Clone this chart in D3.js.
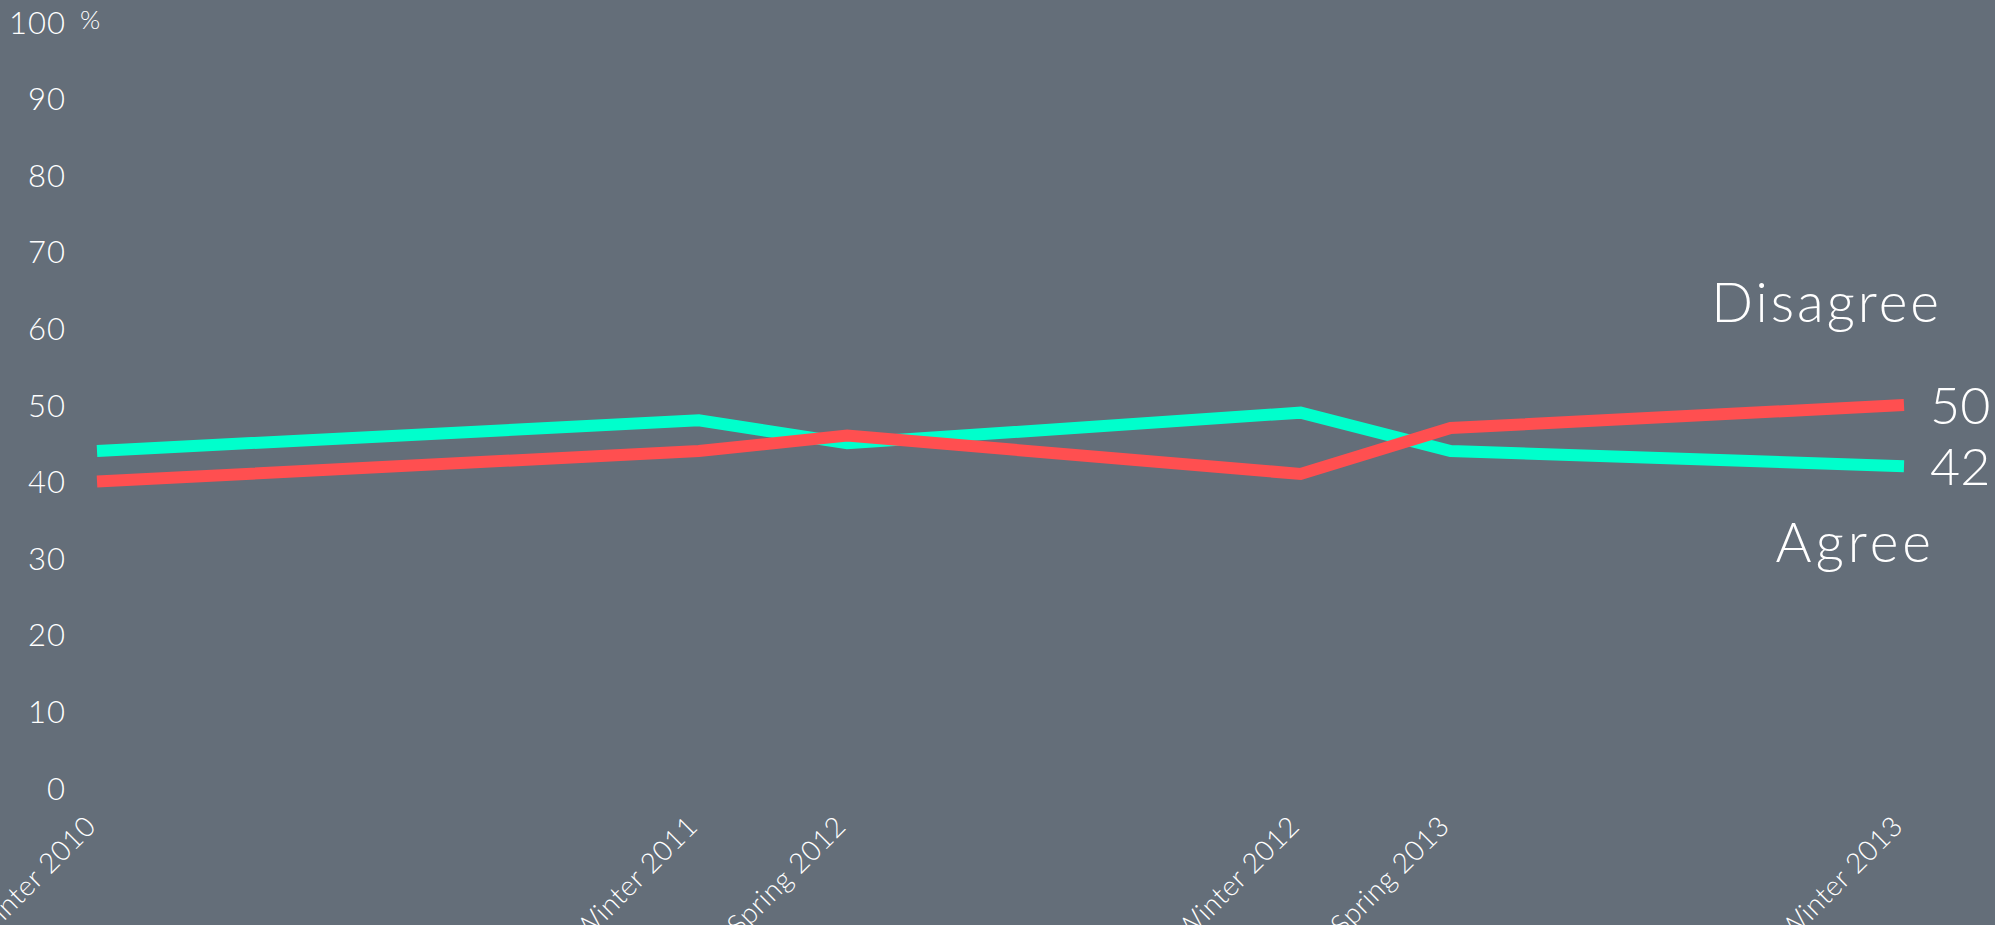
<!DOCTYPE html>
<html>
<head>
<meta charset="utf-8">
<script src="https://cdn.jsdelivr.net/npm/d3@7"></script>
<style>
  html, body { margin: 0; padding: 0; background: #646e79; }
  svg { display: block; }
  text { font-family: Lato, "Open Sans", sans-serif; font-weight: 300; fill: #ffffff; }
</style>
</head>
<body>
<svg id="chart" width="1995" height="925"></svg>
<script>
// ---- data ----
const categories = ["Winter 2010", "Winter 2011", "Spring 2012", "Winter 2012", "Spring 2013", "Winter 2013"];
const surveyDates = ["2010-01-01", "2011-01-01", "2011-04-01", "2012-01-01", "2012-04-01", "2013-01-01"];
const agree = [44, 48, 45, 49, 44, 42];
const disagree = [40, 44, 46, 41, 47, 50];
const yTicks = [0, 10, 20, 30, 40, 50, 60, 70, 80, 90, 100];
const seriesNames = ["Agree", "Disagree"];

// ---- layout ----
const W = 1995, H = 925;
const svg = d3.select("#chart");
svg.append("rect").attr("width", W).attr("height", H).attr("fill", "#646e79");

const parse = d3.timeParse("%Y-%m-%d");
const dates = surveyDates.map(parse);

const x = d3.scaleTime().domain(d3.extent(dates)).range([97, 1904]);
const y = d3.scaleLinear().domain([0, 100]).range([788, 22]);

// y axis labels
const yAxis = d3.axisLeft(y).tickValues(yTicks).tickSize(0).tickPadding(0);
const gy = svg.append("g").attr("transform", "translate(66,0)").call(yAxis);
gy.select(".domain").remove();
gy.selectAll("text")
  .attr("font-size", 31)
  .attr("letter-spacing", 1)
  .attr("fill", "#ffffff")
  .attr("font-family", "Lato, sans-serif")
  .attr("font-weight", 300)
  .attr("dy", "0.36em");

svg.append("text").attr("x", 80).attr("y", 29).attr("font-size", 26).text("%");

// x axis labels
const xAxis = d3.axisBottom(x).tickValues(dates).tickSize(0).tickPadding(0)
  .tickFormat((d, i) => categories[i]);
const gx = svg.append("g").attr("transform", "translate(0,828)").call(xAxis);
gx.select(".domain").remove();
gx.selectAll("text")
  .attr("font-size", 28)
  .attr("letter-spacing", 0.5)
  .attr("fill", "#ffffff")
  .attr("font-family", "Lato, sans-serif")
  .attr("font-weight", 300)
  .attr("text-anchor", "end")
  .attr("y", 0)
  .attr("dy", 0)
  .attr("transform", "rotate(-45)");

// lines
const line = d3.line().x((d, i) => x(dates[i])).y(d => y(d));
const series = [
  { name: seriesNames[0], values: agree, color: "#00ffcc" },
  { name: seriesNames[1], values: disagree, color: "#ff4f50" }
];
svg.selectAll("path.series").data(series).enter().append("path")
  .attr("class", "series")
  .attr("d", d => line(d.values))
  .attr("fill", "none")
  .attr("stroke", d => d.color)
  .attr("stroke-width", 12)
  .attr("stroke-linejoin", "miter")
  .attr("stroke-linecap", "butt");

// end value labels
const last = dates.length - 1;
series.forEach(s => {
  svg.append("text")
    .attr("x", 1930)
    .attr("y", y(s.values[last]))
    .attr("dy", "0.36em")
    .attr("font-size", 52)
    .text(s.values[last]);
});

// series name labels
svg.append("text").attr("x", 1942).attr("y", 322).attr("text-anchor", "end")
  .attr("font-size", 55).attr("letter-spacing", 3).text(seriesNames[1]);
svg.append("text").attr("x", 1935).attr("y", 562).attr("text-anchor", "end")
  .attr("font-size", 55).attr("letter-spacing", 4).text(seriesNames[0]);
</script>
</body>
</html>
